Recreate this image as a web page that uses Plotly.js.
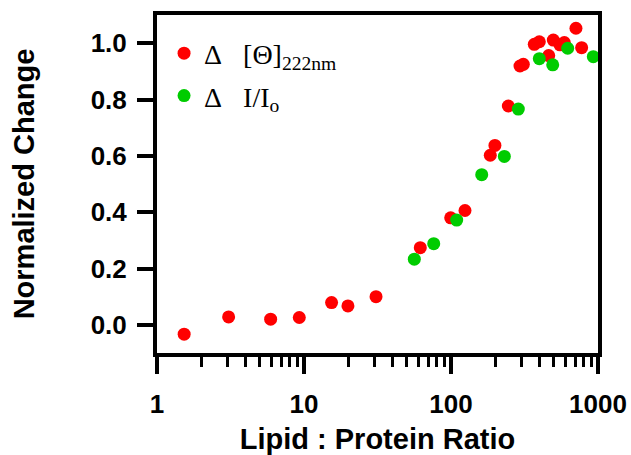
<!DOCTYPE html>
<html><head><meta charset="utf-8">
<script src="https://cdn.plot.ly/plotly-3.0.1.min.js"></script>
<style>html,body{margin:0;padding:0;background:#fff}</style>
</head><body><div id="chart" style="width:631px;height:455px"></div>
<script>
// CD signal change at 222 nm (red)
const cdRatio  = [1.53, 3.07, 5.93, 9.29, 15.4, 19.9, 30.9, 61.8, 99.5, 124.5, 185, 199, 245.5, 294.6, 310.5, 368.6, 398.8, 462, 496.6, 551, 590, 708, 774];
const cdChange = [-0.033, 0.028, 0.020, 0.026, 0.079, 0.067, 0.100, 0.274, 0.380, 0.406, 0.602, 0.637, 0.777, 0.919, 0.925, 0.996, 1.005, 0.956, 1.011, 0.994, 1.002, 1.053, 0.984];
// Fluorescence intensity change (green)
const flRatio  = [56.3, 76.3, 109.3, 161.8, 230.6, 287, 398.8, 492, 622, 929];
const flChange = [0.233, 0.288, 0.372, 0.533, 0.598, 0.766, 0.945, 0.923, 0.982, 0.952];

const xTickVals = [1, 10, 100, 1000];
const xTickText = ['1', '10', '100', '1000'];
const yTickVals = [0, 0.2, 0.4, 0.6, 0.8, 1.0];
const yTickText = ['0.0', '0.2', '0.4', '0.6', '0.8', '1.0'];

const cdName = 'Δ\u00a0\u00a0\u00a0[Θ]<sub>222nm</sub>';
const flName = 'Δ\u00a0\u00a0\u00a0I/I<sub>o</sub>';

const traces = [
  {x: cdRatio, y: cdChange, type: 'scatter', mode: 'markers', name: cdName, legendgroup: 'a',
   marker: {color: '#ff0000', size: 13}},
  {x: flRatio, y: flChange, type: 'scatter', mode: 'markers', name: flName, legendgroup: 'b',
   marker: {color: '#00cc00', size: 13}}
];

const fam = 'Liberation Sans, Arial, sans-serif';
const layout = {
  width: 631, height: 455,
  margin: {l: 157, r: 33, t: 15, b: 102},
  paper_bgcolor: '#fff', plot_bgcolor: '#fff',
  showlegend: true,
  legend: {x: 0.016, y: 0.96, xanchor: 'left', yanchor: 'top', bgcolor: 'rgba(0,0,0,0)',
    traceorder: 'grouped', tracegroupgap: 3,
    font: {family: 'Liberation Serif, Times New Roman, serif', size: 28, color: '#000'}},
  xaxis: {
    type: 'log', range: [0, 3],
    tickvals: xTickVals, ticktext: xTickText,
    ticks: 'outside', ticklen: 17, tickwidth: 4, tickcolor: '#000',
    minor: {ticks: 'outside', ticklen: 10, tickwidth: 3, tickcolor: '#000', dtick: 'D1', showgrid: false},
    showline: true, linewidth: 4, linecolor: '#000', mirror: true,
    showgrid: false, zeroline: false,
    tickfont: {family: fam, size: 26, color: '#000', weight: 'bold'},
    ticklabelstandoff: 8,
    title: {text: '<b>Lipid : Protein Ratio</b>', font: {family: fam, size: 29, color: '#000'}, standoff: 17}
  },
  yaxis: {
    range: [-0.1, 1.1],
    tickvals: yTickVals, ticktext: yTickText,
    ticks: 'outside', ticklen: 16, tickwidth: 4, tickcolor: '#000',
    showline: true, linewidth: 4, linecolor: '#000', mirror: true,
    showgrid: false, zeroline: false,
    tickfont: {family: fam, size: 26, color: '#000', weight: 'bold'},
    ticklabelstandoff: 5,
    title: {text: '<b>Normalized Change</b>', font: {family: fam, size: 29, color: '#000'}, standoff: 48}
  }
};

Plotly.newPlot('chart', traces, layout, {displayModeBar: false, staticPlot: true});
</script>
</body></html>
